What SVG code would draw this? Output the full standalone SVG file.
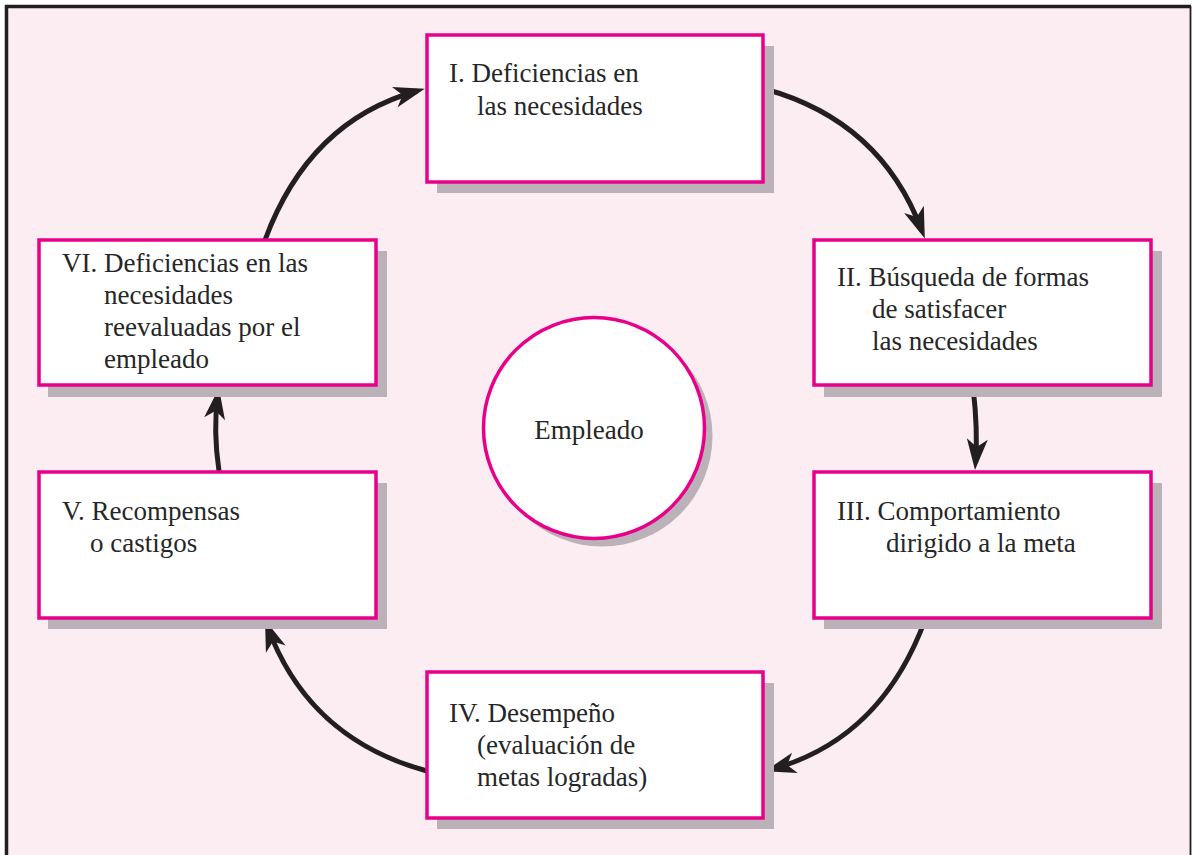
<svg xmlns="http://www.w3.org/2000/svg" width="1192" height="855" viewBox="0 0 1192 855">
<style>
.box{fill:#ffffff;stroke:#e8008a;stroke-width:3.5}
.shadow{fill:#bbb1b9}
text{font-family:'Liberation Serif','Times New Roman',serif;font-size:27px;fill:#262626}
.conn{fill:none;stroke:#231f20;stroke-width:5;marker-end:url(#arr)}
</style>
<defs>
<marker id="arr" markerUnits="userSpaceOnUse" viewBox="-24 -12 34 24" markerWidth="34" markerHeight="24" refX="0" refY="0" orient="auto">
<path d="M8,0 L-23,-10.5 L-15,0 L-23,10.5 Z" fill="#231f20"/>
</marker>
</defs>
<rect x="0" y="0" width="1192" height="855" fill="#ffffff"/>
<rect x="6" y="6" width="1185" height="849" fill="#fcedf2"/>
<path d="M6.5,855 L6.5,6.5 L1191,6.5" fill="none" stroke="#231f20" stroke-width="3.5"/>
<line x1="1190.5" y1="6" x2="1190.5" y2="855" stroke="#231f20" stroke-width="1.8"/>

<g id="connectors">
<path class="conn" d="M265,240 Q309,121 417,91"/>
<path class="conn" d="M765,89 Q881,121 922,231"/>
<path class="conn" d="M973,387 Q978,430 975.6,462"/>
<path class="conn" d="M925,620 Q881,739 772.7,769"/>
<path class="conn" d="M427,771 Q309,739 267.8,627.5"/>
<path class="conn" d="M219,471 Q213,430 217.8,396"/>
</g>

<g id="node-center">
<circle cx="602" cy="436" r="110.5" class="shadow"/>
<circle cx="594" cy="428" r="110.5" class="box"/>
<text x="589" y="439" text-anchor="middle">Empleado</text>
</g>

<g id="node-1">
<rect x="437" y="46" width="337" height="147" class="shadow"/>
<rect x="427" y="35" width="336" height="147" class="box"/>
<text x="449" y="82">I. Deficiencias en</text>
<text x="477" y="115">las necesidades</text>
</g>

<g id="node-2">
<rect x="824" y="251" width="338" height="146" class="shadow"/>
<rect x="814" y="240" width="337" height="145" class="box"/>
<text x="837" y="286">II. Búsqueda de formas</text>
<text x="872" y="318">de satisfacer</text>
<text x="872" y="350">las necesidades</text>
</g>

<g id="node-3">
<rect x="824" y="483" width="338" height="146" class="shadow"/>
<rect x="814" y="472" width="337" height="146" class="box"/>
<text x="837" y="520">III. Comportamiento</text>
<text x="886" y="552">dirigido a la meta</text>
</g>

<g id="node-4">
<rect x="437" y="683" width="337" height="146" class="shadow"/>
<rect x="427" y="672" width="336" height="146" class="box"/>
<text x="449" y="722">IV. Desempeño</text>
<text x="477" y="754">(evaluación de</text>
<text x="477" y="786">metas logradas)</text>
</g>

<g id="node-5">
<rect x="48" y="483" width="339" height="146" class="shadow"/>
<rect x="39" y="472" width="337" height="146" class="box"/>
<text x="62" y="520">V. Recompensas</text>
<text x="90" y="552">o castigos</text>
</g>

<g id="node-6">
<rect x="48" y="251" width="339" height="146" class="shadow"/>
<rect x="39" y="240" width="337" height="145" class="box"/>
<text x="62" y="272">VI. Deficiencias en las</text>
<text x="104" y="304">necesidades</text>
<text x="104" y="336">reevaluadas por el</text>
<text x="104" y="368">empleado</text>
</g>
</svg>
